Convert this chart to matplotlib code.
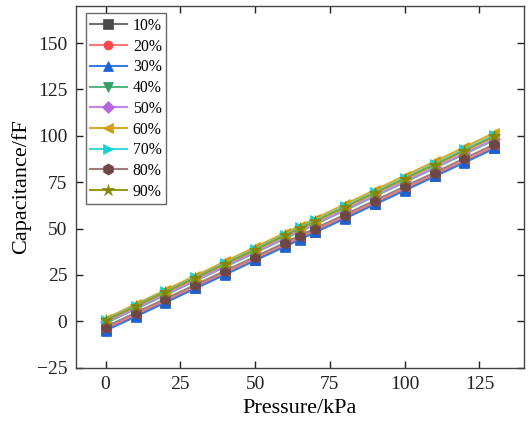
import numpy as np
import matplotlib
matplotlib.use("Agg")
import matplotlib.pyplot as plt

plt.rcParams['font.family'] = ['Liberation Serif', 'DejaVu Serif']

# pressure points (kPa)
pressure = [0, 10, 20, 30, 40, 50, 60, 65, 70, 80, 90, 100, 110, 120, 130]

labels = ["10%", "20%", "30%", "40%", "50%", "60%", "70%", "80%", "90%"]

# capacitance (fF)
cap_10 = [-4.5, 3.0, 10.6, 18.2, 25.7, 33.3, 40.8, 44.6, 48.4, 55.9, 63.5, 71.0, 78.6, 86.1, 93.7]
cap_20 = [-4.0, 3.5, 11.1, 18.7, 26.2, 33.8, 41.3, 45.1, 48.9, 56.4, 64.0, 71.5, 79.1, 86.6, 94.2]
cap_30 = [-5.0, 2.5, 10.1, 17.7, 25.2, 32.8, 40.3, 44.1, 47.9, 55.4, 63.0, 70.5, 78.1, 85.6, 93.2]
cap_40 = [-1.0, 6.6, 14.2, 21.8, 29.4, 37.0, 44.6, 48.4, 52.2, 59.8, 67.4, 75.0, 82.6, 90.2, 97.8]
cap_50 = [-0.5, 7.1, 14.7, 22.3, 29.9, 37.5, 45.1, 48.9, 52.7, 60.3, 67.9, 75.5, 83.1, 90.7, 98.3]
cap_60 = [1.5, 9.2, 16.9, 24.6, 32.3, 40.0, 47.7, 51.5, 55.4, 63.1, 70.8, 78.5, 86.2, 93.9, 101.6]
cap_70 = [0.8, 8.5, 16.1, 23.8, 31.4, 39.1, 46.7, 50.6, 54.4, 62.1, 69.7, 77.4, 85.0, 92.7, 100.3]
cap_80 = [-3.0, 4.6, 12.1, 19.7, 27.3, 34.8, 42.4, 46.2, 50.0, 57.5, 65.1, 72.7, 80.2, 87.8, 95.4]
cap_90 = [0.5, 8.1, 15.8, 23.4, 31.0, 38.6, 46.3, 50.1, 53.9, 61.5, 69.2, 76.8, 84.4, 92.0, 99.7]

series = [cap_10, cap_20, cap_30, cap_40, cap_50, cap_60, cap_70, cap_80, cap_90]
marker_colors = ["#4a4a4a", "#f84848", "#1a62d8", "#2f9e62", "#b565dd",
                 "#d39c00", "#16d0d6", "#6e4646", "#868600"]
line_colors = ["#707070", "#f87878", "#3a7ae0", "#58b482", "#c286e4",
               "#d8aa28", "#3ed8dc", "#a27c7c", "#9a9a1a"]
markers = ["s", "o", "^", "v", "D", "<", ">", "h", "*"]
msizes = [6.5, 6.5, 7.5, 7.5, 6, 7.5, 7.5, 8, 9]

fig = plt.figure(figsize=(5.29, 4.22), dpi=100)
ax = fig.add_axes([0.1431, 0.1287, 0.848, 0.857])

for vals, lab, mc, lc, mk, ms in zip(series, labels, marker_colors, line_colors, markers, msizes):
    ax.plot(pressure, vals, color=lc, linewidth=1.5, marker=mk, markersize=ms,
            markerfacecolor=mc, markeredgecolor=mc, markeredgewidth=0.5, label=lab)

ax.set_xlim(-10, 140)
ax.set_ylim(-25, 170)
ax.set_xticks([0, 25, 50, 75, 100, 125])
ax.set_yticks([-25, 0, 25, 50, 75, 100, 125, 150])
ax.set_yticklabels(["\u221225", "0", "25", "50", "75", "100", "125", "150"])

ax.tick_params(direction="in", length=5, width=1, labelsize=14, colors="#222222",
               top=True, right=True, pad=6)
for s in ax.spines.values():
    s.set_color("#444444")
    s.set_linewidth(1.0)

ax.set_xlabel("Pressure/kPa", fontsize=16, labelpad=4)
ax.set_ylabel("Capacitance/fF", fontsize=16, labelpad=4)

leg = ax.legend(loc="upper left", bbox_to_anchor=(0.0223, 0.98), borderaxespad=0,
                fontsize=11.3, frameon=True, fancybox=False,
                edgecolor="#444444", handlelength=2.3, handletextpad=0.4,
                labelspacing=0.3, borderpad=0.3)
leg.get_frame().set_linewidth(1.0)

fig.savefig("out.png", dpi=100)
